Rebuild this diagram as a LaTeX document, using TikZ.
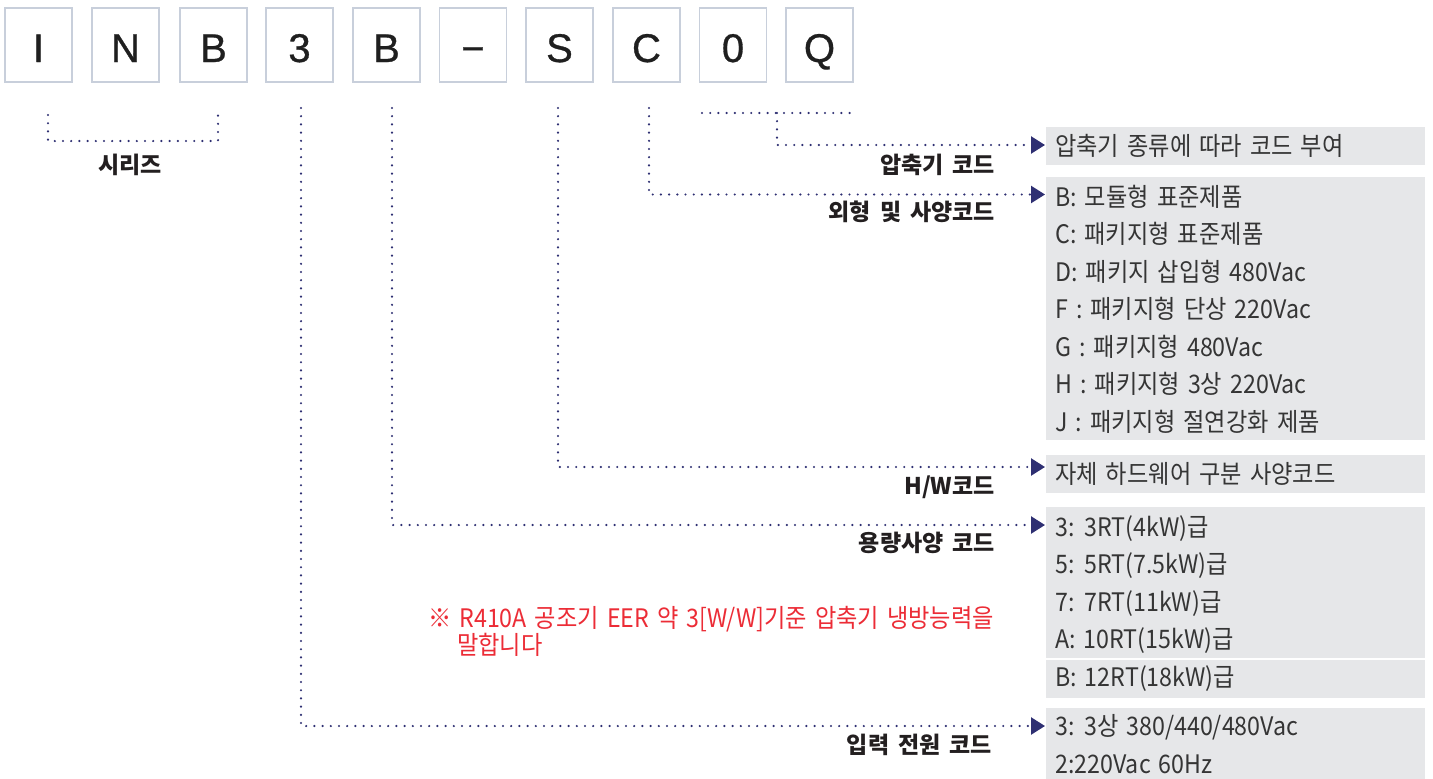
\documentclass[tikz,border=0pt]{standalone}
\usepackage{fontspec}
\usetikzlibrary{arrows.meta}
\newfontfamily\krfont[WordSpace=1.55,FakeStretch=0.91]{Noto Sans CJK KR}
\newfontfamily\krlabfont[WordSpace=1.7]{Noto Sans CJK KR}
\newfontfamily\boxfont[FakeBold=0.8]{Liberation Sans}
\definecolor{boxline}{HTML}{C8CFDB}
\definecolor{navy}{HTML}{2E2F72}
\definecolor{panelgray}{HTML}{E6E7E9}
\definecolor{textgray}{HTML}{353535}
\definecolor{labelc}{HTML}{231F20}
\definecolor{notered}{HTML}{EC2C36}
\tikzset{
  codebox/.style={draw=boxline, line width=1.5pt, fill=white, minimum width=67pt, minimum height=74pt,
    inner sep=0pt, font=\boxfont\fontsize{40}{44}\selectfont, text=black!88, text height=34pt, text depth=0pt},
  dotline/.style={navy, line width=2.4pt, line cap=round, dash pattern=on 0pt off 8.2pt},
  arr/.style={-{Triangle[length=14pt,width=17pt]}},
  panel/.style={fill=panelgray, draw=none, anchor=north west, inner sep=0pt, minimum width=379pt},
  ptext/.style={anchor=base west, inner sep=0pt, text=textgray, font=\krfont\fontsize{25.5}{30}\selectfont},
  lab/.style={anchor=base east, inner sep=0pt, text=labelc, font=\krlabfont\bfseries\fontsize{23}{27}\selectfont},
  note/.style={anchor=base west, inner sep=0pt, text=notered, font=\krfont\fontsize{25.5}{30}\selectfont}
}
\begin{document}
\begin{tikzpicture}[x=1pt,y=-1pt]
\useasboundingbox[fill=white] (0,0) rectangle (1433,779);

% code boxes
\node[codebox] (b1) at (38.5,45) {I};
\node[codebox] (b2) at (125.5,45) {N};
\node[codebox] (b3) at (213.5,45) {B};
\node[codebox] (b4) at (299.5,45) {3};
\node[codebox] (b5) at (386.5,45) {B};
\node[codebox] (b6) at (473,45) {−};
\node[codebox] (b7) at (559.5,45) {S};
\node[codebox] (b8) at (646.5,45) {C};
\node[codebox] (b9) at (733,45) {0};
\node[codebox] (b10) at (819.5,45) {Q};

% panels
\node[panel, minimum height=38pt] (p1) at (1046,127) {};
\node[panel, minimum height=263pt] (p2) at (1046,177) {};
\node[panel, minimum height=38pt] (p3) at (1046,455) {};
\node[panel, minimum height=151pt] (p4a) at (1046,507) {};
\node[panel, minimum height=38pt] (p4b) at (1046,659.5) {};
\node[panel, minimum height=71pt] (p5) at (1046,708) {};

% connector start points
\coordinate (ser1) at (48,115);
\coordinate (ser2) at (218,115);
\coordinate (t3) at (301,108);
\coordinate (tB) at (392,108);
\coordinate (tS) at (558,108);
\coordinate (tC) at (649,108);
\coordinate (q1) at (702,113);
\coordinate (q2) at (855,113);
\coordinate (qm) at (777,113);
% arrow end points
\coordinate (a1) at (1045,145);
\coordinate (a2) at (1045,194.5);
\coordinate (a3) at (1045,467);
\coordinate (a4) at (1045,525);
\coordinate (a5) at (1045,726);

% connectors
\draw[dotline] (ser1) -- ++(0,26) -| (ser2);
\draw[dotline] (q1) -- (q2);
\draw[dotline, arr] (qm) |- (a1);
\draw[dotline, arr] (tC) |- (a2);
\draw[dotline, arr] (tS) |- (a3);
\draw[dotline, arr] (tB) |- (a4);
\draw[dotline, arr] (t3) |- (a5);

% labels
\node[lab, anchor=base] (lser) at (130,173) {시리즈};
\node[lab] (l1) at (995,173) {압축기 코드};
\node[lab] (l2) at (995,220) {외형 및 사양코드};
\node[lab] (l3) at (995,494) {H/W코드};
\node[lab] (l4) at (995,551) {용량사양 코드};
\node[lab] (l5) at (992,753) {입력 전원 코드};

% panel texts
\node[ptext] (x1) at (1055,155) {압축기 종류에 따라 코드 부여};
\node[ptext] (x2a) at (1055,206) {B: 모듈형 표준제품};
\node[ptext] (x2b) at (1055,243.5) {C: 패키지형 표준제품};
\node[ptext] (x2c) at (1055,281) {D: 패키지 삽입형 480Vac};
\node[ptext] (x2d) at (1055,318.5) {F : 패키지형 단상 220Vac};
\node[ptext] (x2e) at (1055,356) {G : 패키지형 480Vac};
\node[ptext] (x2f) at (1055,393.5) {H : 패키지형 3상 220Vac};
\node[ptext] (x2g) at (1055,431) {J : 패키지형 절연강화 제품};
\node[ptext] (x3) at (1055,483) {자체 하드웨어 구분 사양코드};
\node[ptext] (x4a) at (1055,536) {3: 3RT(4kW)급};
\node[ptext] (x4b) at (1055,573.5) {5: 5RT(7.5kW)급};
\node[ptext] (x4c) at (1055,611) {7: 7RT(11kW)급};
\node[ptext] (x4d) at (1055,648) {A: 10RT(15kW)급};
\node[ptext] (x4e) at (1055,686) {B: 12RT(18kW)급};
\node[ptext] (x5a) at (1055,735) {3: 3상 380/440/480Vac};
\node[ptext] (x5b) at (1055,773) {2:220Vac 60Hz};

% note
\node[note] (n1) at (428,627) {※ R410A 공조기 EER 약 3[W/W]기준 압축기 냉방능력을};
\node[note] (n2) at (457,654) {말합니다};
\end{tikzpicture}
\end{document}
